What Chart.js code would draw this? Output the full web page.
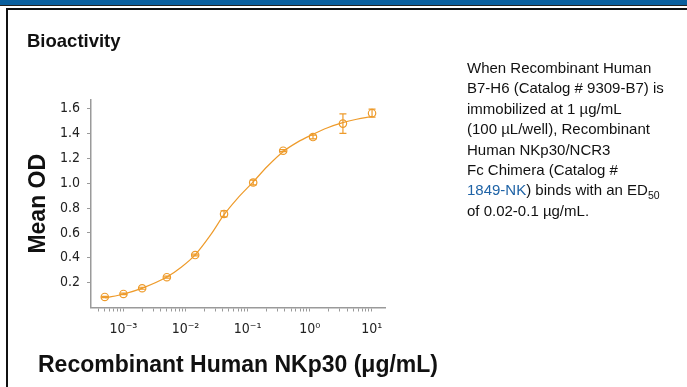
<!DOCTYPE html>
<html>
<head>
<meta charset="utf-8">
<script src="https://cdn.jsdelivr.net/npm/chart.js@4.4.1/dist/chart.umd.min.js"></script>
<style>
  html, body { margin: 0; padding: 0; background: #fff; }
  body { width: 687px; height: 387px; position: relative; overflow: hidden; font-family: Arial, "Liberation Sans", sans-serif; }
  #topbar { position: absolute; left: 0; top: 0; width: 687px; height: 5px; background: #0a5f9e; }
  #topline1 { position: absolute; left: 0; top: 5px; width: 687px; height: 1px; background: #222; }
  #topline2 { position: absolute; left: 6px; top: 8px; width: 681px; height: 2px; background: #111; }
  #leftline { position: absolute; left: 6px; top: 8px; width: 2px; height: 379px; background: #111; }
  #chart { position: absolute; left: 0; top: 0; }
  #heading { position: absolute; left: 27px; top: 32px; font-size: 18.5px; line-height: 18.5px; font-weight: bold; color: #111; }
  #xtitle { position: absolute; left: 0; width: 476px; top: 353px; text-align: center; font-size: 23px; line-height: 23px; font-weight: bold; color: #111; white-space: nowrap; }
  #desc { position: absolute; left: 467px; top: 58px; font-size: 15px; line-height: 20.4px; color: #111; white-space: nowrap; }
  #desc a { color: #1f63a6; text-decoration: none; }
  #desc sub { font-size: 10.5px; vertical-align: -4px; line-height: 0; }
</style>
</head>
<body>
<div id="topbar"></div>
<div id="topline1"></div>
<div id="topline2"></div>
<div id="leftline"></div>
<canvas id="chart" width="687" height="387"></canvas>
<div id="heading">Bioactivity</div>
<div id="xtitle">Recombinant Human NKp30 (μg/mL)</div>
<div id="desc">When Recombinant Human<br>B7-H6 (Catalog # 9309-B7) is<br>immobilized at 1 µg/mL<br>(100 µL/well), Recombinant<br>Human NKp30/NCR3<br>Fc Chimera (Catalog #<br><a>1849-NK</a>) binds with an ED<sub>50</sub><br>of 0.02-0.1 µg/mL.</div>
<script>
// ---- data ----
const concentrations = [0.0005, 0.001, 0.002, 0.005, 0.0143, 0.0417, 0.123, 0.374, 1.13, 3.43, 10.1];
const meanOD         = [0.085, 0.109, 0.155, 0.244, 0.422, 0.753, 1.006, 1.262, 1.372, 1.480, 1.564];
const odError        = [0.005, 0.006, 0.008, 0.008, 0.007, 0.024, 0.019, 0.008, 0.015, 0.078, 0.032];

// fitted curve
const fitConc = [0.00051, 0.00101, 0.00207, 0.00515, 0.0084, 0.0143, 0.0255, 0.0417, 0.0682, 0.123, 0.207, 0.373, 0.627, 1.13, 1.90, 3.40, 5.70, 10.1];
const fitOD   = [0.077, 0.109, 0.158, 0.249, 0.322, 0.424, 0.586, 0.747, 0.877, 1.011, 1.135, 1.254, 1.329, 1.394, 1.445, 1.488, 1.515, 1.537];

const yTickValues = [0.2, 0.4, 0.6, 0.8, 1.0, 1.2, 1.4, 1.6];
const xTickValues = [0.001, 0.01, 0.1, 1, 10];
const xTickLabels = ['10\u207B\u00B3', '10\u207B\u00B2', '10\u207B\u00B9', '10\u2070', '10\u00B9'];

const orange = '#ee9b2b';
const axisGray = '#9a9a9a';

const pointData = concentrations.map((c, i) => ({x: c, y: meanOD[i]}));
const fitData = fitConc.map((c, i) => ({x: c, y: fitOD[i]}));

const errorBars = {
  id: 'errorBars',
  afterDatasetsDraw(chart) {
    const ctx = chart.ctx, xs = chart.scales.x, ys = chart.scales.y;
    ctx.save();
    ctx.strokeStyle = orange;
    ctx.lineWidth = 1.2;
    concentrations.forEach((c, i) => {
      const px = xs.getPixelForValue(c);
      const yt = ys.getPixelForValue(meanOD[i] + odError[i]);
      const yb = ys.getPixelForValue(meanOD[i] - odError[i]);
      const cap = 3.5;
      ctx.beginPath();
      ctx.moveTo(px, yt); ctx.lineTo(px, yb);
      ctx.moveTo(px - cap, yt); ctx.lineTo(px + cap, yt);
      ctx.moveTo(px - cap, yb); ctx.lineTo(px + cap, yb);
      ctx.stroke();
    });
    ctx.restore();
  }
};

const tickFont = { family: '"Liberation Sans Narrow", "DejaVu Sans Condensed", Arial', size: 14 };

new Chart(document.getElementById('chart'), {
  type: 'scatter',
  data: {
    datasets: [
      { data: fitData, showLine: true, borderColor: orange, borderWidth: 1.2, pointRadius: 0,
        cubicInterpolationMode: 'monotone', fill: false, order: 2 },
      { data: pointData, showLine: false, borderColor: orange, backgroundColor: 'rgba(0,0,0,0)',
        pointRadius: 3.7, pointBorderWidth: 1.2, pointStyle: 'circle', order: 1 }
    ]
  },
  options: {
    responsive: false,
    devicePixelRatio: 1,
    animation: false,
    events: [],
    layout: { padding: { top: 100, right: 302, left: 0, bottom: 0 } },
    plugins: { legend: { display: false }, tooltip: { enabled: false }, title: { display: false } },
    scales: {
      x: {
        type: 'logarithmic',
        min: Math.pow(10, -3.502),
        max: Math.pow(10, 1.213),
        afterBuildTicks(scale) {
          const t = [];
          for (let e = -4; e <= 1; e++) {
            for (let m = 1; m <= 9; m++) {
              const v = m * Math.pow(10, e);
              if (v > scale.min * 1.02 && v < scale.max) t.push({ value: v });
            }
          }
          scale.ticks = t;
        },
        afterFit(scale) { scale.height = 79.5; },
        ticks: {
          autoSkip: false, maxRotation: 0, minRotation: 0, padding: 9, color: '#222', font: tickFont,
          callback(value) {
            const idx = xTickValues.findIndex(v => Math.abs(Math.log10(v) - Math.log10(value)) < 1e-6);
            return idx >= 0 ? xTickLabels[idx] : '';
          }
        },
        grid: { drawOnChartArea: false, drawTicks: true, tickLength: 4, color: axisGray, tickWidth: 1 },
        border: { display: true, color: axisGray, width: 1.5 },
        title: { display: false }
      },
      y: {
        type: 'linear',
        min: 0,
        max: 1.67,
        afterBuildTicks(scale) { scale.ticks = yTickValues.map(v => ({ value: v })); },
        afterFit(scale) { scale.width = 91; },
        ticks: {
          padding: 7, color: '#222', font: tickFont,
          callback(value) { return value.toFixed(1); }
        },
        grid: { drawOnChartArea: false, drawTicks: true, tickLength: 4, color: axisGray, tickWidth: 1 },
        border: { display: true, color: axisGray, width: 1.5 },
        title: {
          display: true, text: 'Mean OD', color: '#111',
          font: { family: 'Arial, "Liberation Sans"', size: 23, weight: 'bold' },
          padding: { top: 25, bottom: 0 }
        }
      }
    }
  },
  plugins: [errorBars]
});
</script>
</body>
</html>
